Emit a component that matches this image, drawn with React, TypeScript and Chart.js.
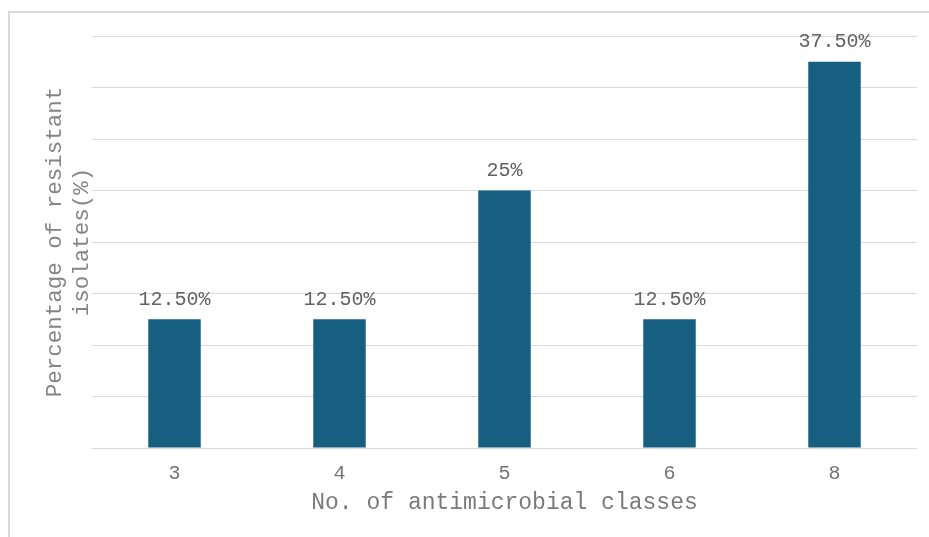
import React, { useEffect, useRef } from "react";
import { Chart, registerables } from "chart.js";

Chart.register(...registerables);

// Number of antimicrobial classes an isolate resists, and the share of isolates (%)
const classes: string[] = ["3", "4", "5", "6", "8"];
const resistantShare: number[] = [12.5, 12.5, 25, 12.5, 37.5];

const yTitle: string[] = ["Percentage of resistant", "isolates(%)"];
const xTitle = "No. of antimicrobial classes";

const FONT = "'Courier New', 'Liberation Mono', monospace";
const BAR = "#175f80";

const formatShare = (v: number) =>
  Number.isInteger(v) ? `${v}%` : `${v.toFixed(2)}%`;

// Writes the percentage just above each bar
const valueLabels = {
  id: "valueLabels",
  afterDatasetsDraw(chart: any) {
    const { ctx } = chart;
    const meta = chart.getDatasetMeta(0);
    ctx.save();
    ctx.font = `20px ${FONT}`;
    ctx.fillStyle = "#626262";
    ctx.textAlign = "center";
    ctx.textBaseline = "alphabetic";
    meta.data.forEach((bar: any, i: number) => {
      const v = chart.data.datasets[0].data[i] as number;
      ctx.fillText(formatShare(v), bar.x, bar.y - 14.5);
    });
    ctx.restore();
  },
};

export default function App() {
  const canvasRef = useRef<HTMLCanvasElement | null>(null);

  useEffect(() => {
    const canvas = canvasRef.current;
    if (!canvas) return;
    const chart = new Chart(canvas, {
      type: "bar",
      data: {
        labels: classes,
        datasets: [
          {
            data: resistantShare,
            backgroundColor: BAR,
            borderWidth: 0,
            categoryPercentage: 1,
            barPercentage: 0.318,
          },
        ],
      },
      plugins: [valueLabels],
      options: {
        responsive: false,
        animation: false,
        layout: { padding: { top: 36, right: 12, left: 0, bottom: 0 } },
        plugins: {
          legend: { display: false },
          tooltip: { enabled: false },
        },
        scales: {
          x: {
            grid: { display: false },
            border: { display: false },
            ticks: {
              color: "#747474",
              font: { family: FONT, size: 20 },
              padding: 6,
            },
            title: {
              display: true,
              text: xTitle,
              color: "#7a7a7a",
              font: { family: FONT, size: 23 },
              padding: { top: 0, bottom: 20 },
            },
            afterFit: (scale: any) => {
              scale.height = 89;
            },
          },
          y: {
            min: 0,
            max: 40,
            ticks: { display: false, stepSize: 5 },
            grid: { color: "#d9d9d9", drawTicks: false, lineWidth: 1 },
            border: { display: false },
            title: {
              display: true,
              text: yTitle,
              color: "#858585",
              font: { family: FONT, size: 22.5 },
              padding: { top: 42, bottom: 0 },
            },
            afterFit: (scale: any) => {
              scale.width = 92;
            },
          },
        },
      },
    });
    return () => chart.destroy();
  }, []);

  return (
    <div>
      <div
        style={{
          position: "fixed",
          left: 8,
          top: 11,
          width: 1000,
          height: 1000,
          border: "2px solid #d9d9d9",
        }}
      />
      <canvas
        ref={canvasRef}
        width={929}
        height={537}
        style={{ position: "fixed", left: 0, top: 0, width: 929, height: 537 }}
      />
    </div>
  );
}
